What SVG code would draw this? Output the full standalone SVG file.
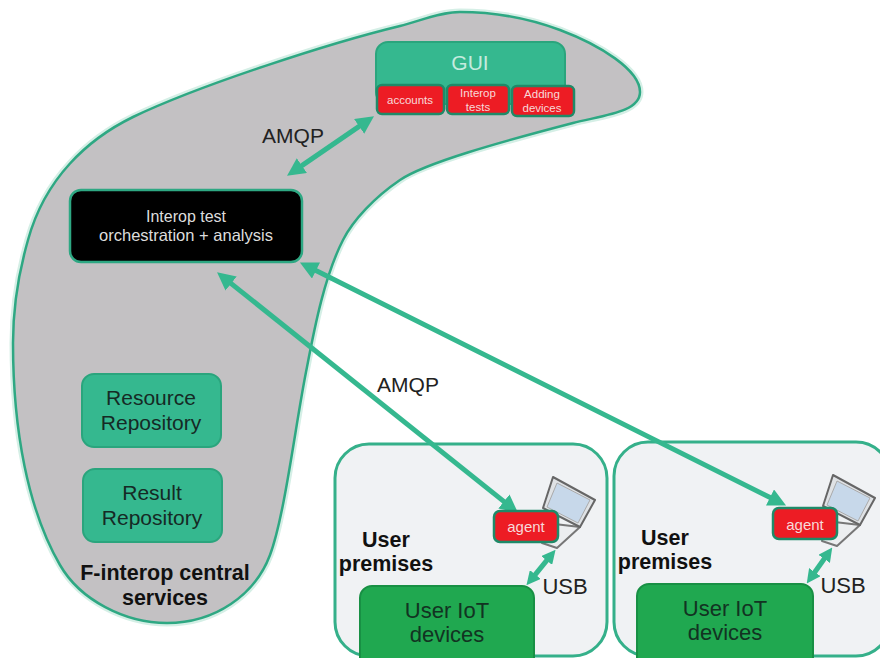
<svg xmlns="http://www.w3.org/2000/svg" width="880" height="658" viewBox="0 0 880 658">
<defs>
<marker id="ah" viewBox="0 0 10 10" refX="1" refY="5" markerWidth="3.6" markerHeight="3.6" markerUnits="strokeWidth" orient="auto-start-reverse"><path d="M0 0L10 5L0 10z" fill="#35b88f"/></marker>
<marker id="ahs" viewBox="0 0 10 10" refX="1" refY="5" markerWidth="2.8" markerHeight="2.8" markerUnits="strokeWidth" orient="auto-start-reverse"><path d="M0 0L10 5L0 10z" fill="#35b88f"/></marker>
<path id="blob" d="M640 92C640 70 600 45 560 30C525 17 490 12 460 12C440 12 420 21 400 26C330 43 200 85 133 117C88 139 45 178 28 240C18 275 13 310 13 343C13 430 28 510 60 565C80 600 125 623 167 623C215 623 255 595 270 555C285 515 296 420 307 367C315 325 325 275 343 240C353 220 375 197 400 180C425 163 500 142 573 123C605 115 640 112 640 92z"/>
<g id="laptop">
<path d="M64 52L41 73L26 68L30 48z" fill="#eceef0" stroke="#777" stroke-width="2" stroke-linejoin="round"/>
<path d="M37 2L79 25L64 52L27 33z" fill="#dfe2e5" stroke="#666" stroke-width="2" stroke-linejoin="round"/>
<path d="M41 8L74 25L62 48L31 32z" fill="#c7d8ea" stroke="#aaa" stroke-width="1"/>
</g>
</defs>
<style>
text{font-family:"Liberation Sans",Arial,sans-serif;text-anchor:middle}
.teal{fill:#35b88f;stroke:#2aa57d;stroke-width:2}
.red{fill:#ed1c24;stroke:#1f8a68;stroke-width:2.5}
.rt{fill:#f7d9d9;font-size:11.5px}
.lbl{fill:#222;font-size:21px}
.usb{fill:#222;font-size:22px}
.bold{fill:#111;font-size:21.5px;font-weight:bold}
.dark{fill:#152a25;font-size:21px}
.iott{fill:#123322;font-size:22px}
.prem{fill:#f0f2f4;stroke:#35b08a;stroke-width:3}
.iot{fill:#20a850;stroke:#189044;stroke-width:2}
.con{fill:none;stroke:#35b88f;stroke-width:5;marker-start:url(#ah);marker-end:url(#ah)}
.cons{fill:none;stroke:#35b88f;stroke-width:5;marker-start:url(#ahs);marker-end:url(#ahs)}
</style>
<rect width="880" height="658" fill="#fff"/>
<g id="central">
<use href="#blob" fill="none" stroke="#d5efe6" stroke-width="7"/>
<use href="#blob" fill="#c3c1c3" stroke="#2ea883" stroke-width="2.5"/>
<text class="bold" x="165" y="580">F-interop central</text>
<text class="bold" x="165" y="605">services</text>
</g>
<g id="gui">
<rect class="teal" x="376" y="42" width="189" height="62" rx="12"/>
<text x="470" y="70" fill="#c5ebdf" font-size="21">GUI</text>
</g>
<g id="accounts"><rect class="red" x="377" y="85" width="67" height="29" rx="5"/><text class="rt" x="410" y="104">accounts</text></g>
<g id="interop-tests"><rect class="red" x="447" y="85" width="62" height="29" rx="5"/><text class="rt" x="478" y="97">Interop</text><text class="rt" x="478" y="111">tests</text></g>
<g id="adding-devices"><rect class="red" x="512" y="86" width="62" height="30" rx="5"/><text class="rt" x="542" y="98">Adding</text><text class="rt" x="542" y="112">devices</text></g>
<g id="orchestration">
<rect x="70" y="190" width="232" height="72" rx="11" fill="#000" stroke="#2ea883" stroke-width="2.5"/>
<text x="186" y="222" fill="#ddd" font-size="16">Interop test</text>
<text x="186" y="241" fill="#ddd" font-size="16.5">orchestration + analysis</text>
</g>
<g id="resource-repo">
<rect class="teal" x="82" y="374" width="139" height="73" rx="12"/>
<text class="dark" x="151" y="405">Resource</text><text class="dark" x="151" y="430">Repository</text>
</g>
<g id="result-repo">
<rect class="teal" x="83" y="469" width="139" height="73" rx="12"/>
<text class="dark" x="152" y="500">Result</text><text class="dark" x="152" y="525">Repository</text>
</g>
<g id="premises-1">
<rect class="prem" x="335" y="444" width="272" height="212" rx="34"/>
<text class="bold" x="386" y="547">User</text><text class="bold" x="386" y="571">premises</text>
<use href="#laptop" x="516" y="475"/>
<text class="usb" x="565" y="594">USB</text>
</g>
<g id="premises-2">
<rect class="prem" x="614" y="442" width="276" height="214" rx="34"/>
<text class="bold" x="665" y="545">User</text><text class="bold" x="665" y="569">premises</text>
<use href="#laptop" x="796" y="473"/>
<text class="usb" x="843" y="593">USB</text>
</g>
<g id="iot-1"><rect class="iot" x="360" y="586" width="174" height="90" rx="12"/><text class="iott" x="447" y="618">User IoT</text><text class="iott" x="447" y="642">devices</text></g>
<g id="iot-2"><rect class="iot" x="637" y="584" width="176" height="90" rx="12"/><text class="iott" x="725" y="616">User IoT</text><text class="iott" x="725" y="640">devices</text></g>
<g id="connectors">
<line class="con" x1="300.4" y1="166.6" x2="360.6" y2="125.4"/>
<line class="con" x1="229.7" y1="282.4" x2="505.3" y2="502.6"/>
<line class="con" x1="314.4" y1="269.7" x2="771.6" y2="498.3"/>
<line class="cons" x1="534.4" y1="575.6" x2="547.6" y2="559.4"/>
<line class="cons" x1="814" y1="573.3" x2="825" y2="557.7"/>
</g>
<g id="agent-1"><rect class="red" x="494" y="511" width="64" height="31" rx="6"/><text x="526" y="532" fill="#f7d9d9" font-size="15">agent</text></g>
<g id="agent-2"><rect class="red" x="773" y="508" width="64" height="31" rx="6"/><text x="805" y="530" fill="#f7d9d9" font-size="15">agent</text></g>
<text class="lbl" x="293" y="143">AMQP</text>
<text class="lbl" x="408" y="392">AMQP</text>
</svg>
